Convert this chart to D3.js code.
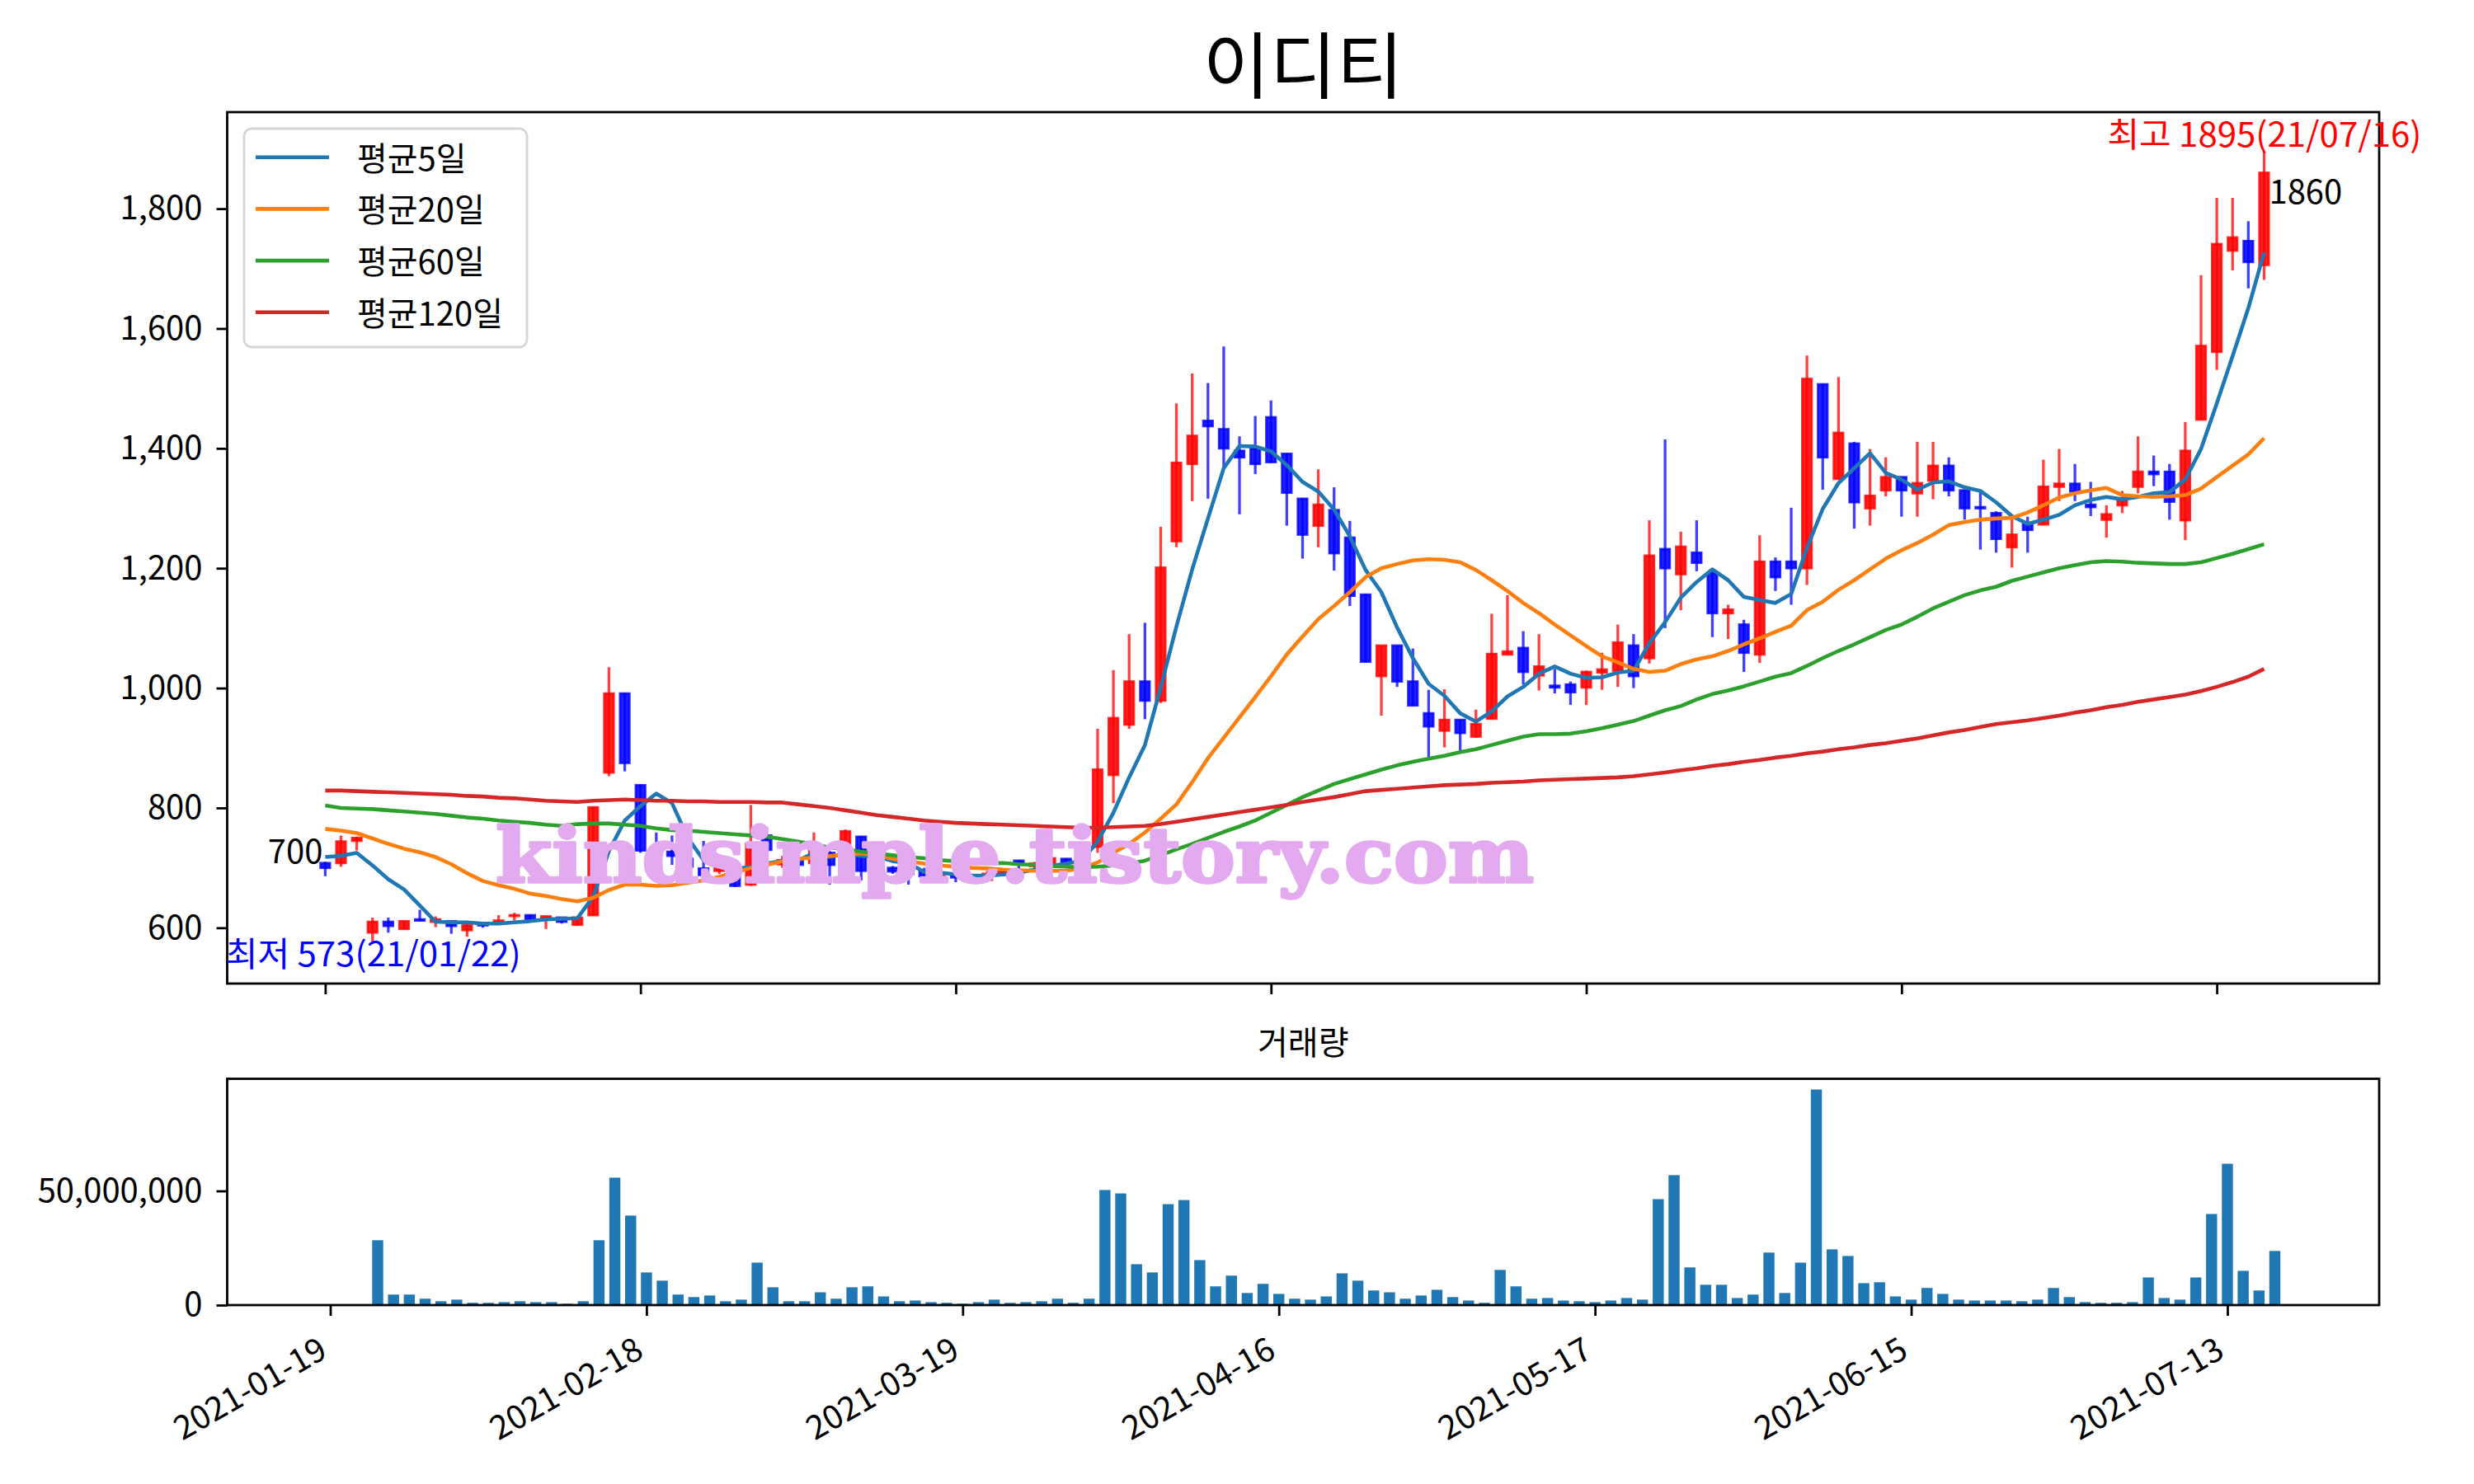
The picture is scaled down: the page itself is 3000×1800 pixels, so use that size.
<!DOCTYPE html>
<html><head><meta charset="utf-8">
<script src="https://cdn.jsdelivr.net/npm/d3@7"></script>
<style>body{margin:0;background:#fff}</style>
</head><body>
<svg id="c" width="3000" height="1800"></svg>
<script>
// ---------- data ----------
const openP = [708,708,745,592,610,598,614,610,611,596,606,610,620,621,614,617,605,621,859,991,
838,736,727,715,699,695,693,672,754,706,713,708,725,725,752,695,700,700,695,688,
690,684,680,690,712,703,708,715,710,735,855,939,1011,979,1245,1374,1446,1432,1396,1400,
1452,1391,1316,1271,1297,1251,1156,1020,1071,1011,958,929,947,919,949,1056,1067,1021,1004,1006,
1001,1026,1029,1071,1050,1232,1190,1226,1192,1125,1106,1056,1211,1211,1200,1507,1349,1408,1300,1330,
1352,1325,1346,1371,1330,1302,1292,1235,1275,1273,1336,1341,1306,1281,1305,1336,1361,1361,1280,1448,
1561,1730,1746,1706];
const highP = [710,754,752,617,617,612,630,619,612,607,608,621,625,622,619,617,617,802,1035,992,
839,759,754,730,745,713,700,805,768,720,718,759,728,764,753,705,703,705,700,695,
695,690,695,698,713,710,720,716,726,932,1030,1090,1109,1269,1475,1525,1509,1570,1420,1454,
1480,1392,1317,1365,1335,1279,1157,1071,1071,1066,997,998,947,964,1124,1155,1095,1090,1032,1011,
1029,1059,1106,1090,1280,1415,1261,1280,1197,1139,1114,1255,1218,1301,1555,1508,1519,1411,1399,1385,
1352,1411,1411,1385,1331,1327,1295,1286,1286,1381,1399,1374,1344,1305,1329,1420,1388,1374,1444,1689,
1818,1818,1779,1895];
const lowP = [686,702,729,573,592,598,611,601,590,585,600,608,612,613,598,607,604,620,853,861,
725,715,705,698,681,690,668,670,705,700,700,705,672,720,679,688,690,672,679,684,
676,680,676,686,684,698,705,705,708,725,808,932,948,975,1235,1312,1316,1365,1290,1357,
1376,1271,1216,1235,1196,1137,1043,954,1002,970,885,901,895,917,948,1056,1006,996,991,972,
972,997,1002,1000,1041,1100,1130,1195,1085,1082,1027,1042,1162,1139,1172,1331,1348,1266,1271,1320,
1286,1286,1315,1320,1281,1231,1226,1201,1226,1272,1312,1312,1287,1251,1292,1325,1337,1281,1247,1447,
1531,1697,1667,1681];
const closeP = [700,744,750,610,603,611,612,614,603,604,604,612,621,614,619,610,617,801,991,875,
729,724,720,702,688,708,670,740,730,713,705,735,705,761,695,700,694,690,686,690,
684,686,690,695,706,707,716,709,722,864,950,1011,979,1201,1376,1421,1437,1400,1385,1374,
1377,1326,1256,1306,1225,1154,1044,1071,1011,971,936,947,925,940,1057,1061,1027,1036,1001,993,
1027,1031,1076,1020,1221,1200,1236,1209,1125,1131,1059,1211,1185,1200,1516,1385,1426,1310,1321,1352,
1330,1342,1371,1330,1300,1300,1249,1256,1264,1336,1341,1328,1302,1290,1314,1361,1357,1311,1396,1571,
1741,1752,1711,1860];
// volume in millions of shares
const volumeM = [0,0,0,28.4,4.6,4.6,2.8,1.7,2.4,1.0,1.0,1.3,1.7,1.3,1.3,0.6,1.7,28.4,55.8,39.2,
14.3,10.7,4.6,3.5,4.2,1.7,2.4,18.6,7.8,1.7,1.7,5.6,2.8,7.8,8.2,3.8,1.7,2.0,1.3,1.0,
0.6,1.3,2.4,1.0,1.3,1.7,2.8,1.0,2.8,50.4,48.9,17.9,14.3,44.2,46.0,19.7,8.2,12.9,5.3,9.3,
4.9,2.8,2.4,3.8,13.9,10.7,6.4,5.6,2.8,4.2,6.7,3.5,2.0,1.0,15.4,8.2,2.8,3.1,2.0,1.7,
1.3,2.0,3.1,2.4,46.4,56.9,16.5,8.9,8.9,3.1,4.6,23.0,5.3,18.6,94.4,24.4,21.5,9.6,10.0,3.8,
2.4,7.5,4.9,2.4,2.0,2.0,2.0,1.7,2.4,7.5,3.5,1.3,1.0,1.0,1.3,12.1,3.1,2.4,12.1,39.9,
61.9,15.0,6.4,23.7];
const ma5 = [718,720,725,704,681,664,637,610,609,609,607,607,609,611,614,615,616,652,728,779,
803,824,808,750,713,708,698,702,707,712,712,725,718,724,720,719,711,708,693,692,
689,687,687,689,692,697,703,707,712,744,792,851,905,1001,1103,1198,1283,1367,1404,1403,
1395,1372,1344,1328,1298,1253,1197,1160,1101,1050,1007,987,958,944,961,986,1002,1024,1036,1024,
1017,1018,1026,1029,1075,1110,1151,1177,1198,1180,1152,1147,1142,1157,1234,1299,1342,1367,1392,1359,
1348,1331,1343,1345,1335,1329,1310,1287,1274,1281,1289,1305,1314,1319,1315,1319,1325,1327,1348,1399,
1475,1554,1634,1727];
const ma20 = [765,762,758,749,740,732,726,718,706,691,678,671,665,657,653,648,644,650,663,672,
672,670,671,675,679,685,692,700,705,711,715,717,720,722,724,721,715,711,707,704,
702,700,699,697,696,695,695,695,700,709,725,740,759,782,806,843,883,917,951,985,
1020,1056,1086,1115,1137,1160,1185,1200,1207,1213,1215,1214,1210,1197,1180,1162,1142,1125,1106,1088,
1070,1053,1043,1032,1027,1029,1040,1048,1053,1062,1073,1083,1094,1104,1130,1144,1164,1180,1198,1216,
1230,1242,1256,1272,1277,1281,1283,1284,1293,1305,1318,1325,1330,1334,1322,1320,1319,1320,1322,1333,
1352,1371,1390,1417];
const ma60 = [804,800,799,798,796,794,792,790,787,784,782,779,777,775,772,770,773,774,774,772,
770,766,763,762,760,758,756,754,752,748,744,739,734,731,727,724,721,718,716,713,
711,709,708,708,706,705,703,702,701,702,704,707,712,721,731,740,750,760,769,779,
792,805,818,829,840,848,856,864,871,877,882,887,893,898,905,912,919,923,923,924,
928,933,939,945,954,963,970,981,990,996,1003,1011,1019,1025,1037,1050,1062,1073,1085,1097,
1106,1119,1133,1144,1155,1163,1169,1179,1186,1193,1200,1205,1210,1212,1211,1209,1208,1207,1207,1210,
1217,1224,1232,1240];
const ma120 = [829,829,828,827,826,825,824,823,822,820,819,817,816,814,812,811,810,812,813,814,
813,812,812,811,811,810,810,810,809,809,806,803,800,796,792,788,785,782,779,777,
775,774,773,772,771,770,769,768,767,767,768,769,770,773,777,781,785,789,793,797,
801,805,810,814,818,823,828,830,832,834,836,838,839,840,842,843,844,846,847,848,
849,850,851,853,856,859,863,866,870,873,877,880,884,887,891,894,898,901,905,908,
912,916,921,926,930,935,940,943,946,950,954,959,963,968,972,977,981,985,989,995,
1002,1010,1019,1032];
const tickIdx = [0,20,40,60,80,100,120];
const tickLabels = ["2021-01-19","2021-02-18","2021-03-19","2021-04-16","2021-05-17","2021-06-15","2021-07-13"];
const priceTicks = [600,800,1000,1200,1400,1600,1800];
const volTicksM = [0,50];
const legendLabels = ["평균5일","평균20일","평균60일","평균120일"];
const titleText = "이디티";
const volTitle = "거래량";
const highLabel = "최고 1895(21/07/16)";
const lowLabel = "최저 573(21/01/22)";
const highIdx = 123, highVal = 1895, lowIdx = 3, lowVal = 573;
const watermark = "kindsimple.tistory.com";

// ---------- layout ----------
const FONT = "'Noto Sans CJK KR','Noto Sans',sans-serif";
const M = {l:275.5, r:2885, t:136, b:1193};
const V = {t:1308.5, b:1583};
const svg = d3.select("#c");
svg.append("rect").attr("width",3000).attr("height",1800).attr("fill","#fff");

const x = d3.scaleLinear().domain([-6.22,130.3]).range([M.l,M.r]);
const y = d3.scaleLinear().domain([506.9,1961.1]).range([M.b,M.t]);
const xv = d3.scaleLinear().domain([-6.52,129.6]).range([M.l,M.r]);
const yv = d3.scaleLinear().domain([0,99.1]).range([V.b,V.t]);

const defs = svg.append("defs");
defs.append("clipPath").attr("id","clipMain").append("rect")
  .attr("x",M.l).attr("y",M.t).attr("width",M.r-M.l).attr("height",M.b-M.t);
defs.append("clipPath").attr("id","clipVol").append("rect")
  .attr("x",M.l).attr("y",V.t).attr("width",M.r-M.l).attr("height",V.b-V.t);

const idx = d3.range(closeP.length);
const up = i => closeP[i] >= openP[i];

// candles
const gc = svg.append("g").attr("clip-path","url(#clipMain)");
gc.selectAll("line.wick").data(idx).join("line").attr("class","wick")
  .attr("x1",i=>x(i)).attr("x2",i=>x(i))
  .attr("y1",i=>y(highP[i])).attr("y2",i=>y(lowP[i]))
  .attr("stroke",i=>up(i)?"rgba(255,0,0,0.75)":"rgba(0,0,255,0.75)")
  .attr("stroke-width",3.3);
const bw = x(0.6)-x(0);
gc.selectAll("rect.body").data(idx).join("rect").attr("class","body")
  .attr("x",i=>x(i)-bw/2).attr("width",bw)
  .attr("y",i=>y(Math.max(openP[i],closeP[i])))
  .attr("height",i=>Math.max(1,Math.abs(y(openP[i])-y(closeP[i]))))
  .attr("fill",i=>up(i)?"rgba(255,0,0,0.88)":"rgba(0,0,255,0.88)")
  .attr("stroke",i=>up(i)?"rgba(255,0,0,0.8)":"rgba(0,0,255,0.8)")
  .attr("stroke-width",2.8);

// moving averages
const maSeries = [ma5, ma20, ma60, ma120];
const maColors = ["#1f77b4","#ff7f0e","#2ca02c","#d62728"];
const line = d3.line().x((d,i)=>x(i)).y(d=>y(d));
const gl = svg.append("g").attr("clip-path","url(#clipMain)");
maSeries.forEach((s,k)=>{
  gl.append("path").attr("d",line(s)).attr("fill","none")
    .attr("stroke",maColors[k]).attr("stroke-width",4.6)
    .attr("stroke-linejoin","round").attr("stroke-linecap","butt");
});

// volume bars
const vbw = xv(0.7)-xv(0);
svg.append("g").attr("clip-path","url(#clipVol)")
  .selectAll("rect").data(idx.filter(i=>volumeM[i]>0)).join("rect")
  .attr("x",i=>xv(i)-vbw/2).attr("width",vbw)
  .attr("y",i=>yv(volumeM[i])).attr("height",i=>yv(0)-yv(volumeM[i]))
  .attr("fill","#1f77b4");

// axes
function styleAxis(g){
  g.select(".domain").remove();
  g.selectAll(".tick line").attr("stroke","#000").attr("stroke-width",2.8);
  g.selectAll(".tick text").attr("fill","#000").attr("font-size",40).attr("font-family",FONT);
  g.attr("font-family",FONT);
}
svg.append("g").attr("transform",`translate(${M.l},0)`)
  .call(d3.axisLeft(y).tickValues(priceTicks).tickFormat(d3.format(",")).tickSize(13).tickPadding(17))
  .call(styleAxis);
svg.append("g").attr("transform",`translate(0,${M.b})`)
  .call(d3.axisBottom(x).tickValues(tickIdx).tickFormat("").tickSize(13))
  .call(styleAxis);
svg.append("g").attr("transform",`translate(${M.l},0)`)
  .call(d3.axisLeft(yv).tickValues(volTicksM).tickFormat(d=>d3.format(",")(d*1e6)).tickSize(13).tickPadding(17))
  .call(styleAxis);
const xa = svg.append("g").attr("transform",`translate(0,${V.b})`)
  .call(d3.axisBottom(xv).tickValues(tickIdx).tickFormat((d,i)=>tickLabels[i]).tickSize(13))
  .call(styleAxis);
xa.selectAll(".tick text").attr("x",0).attr("y",0).attr("dy",0)
  .attr("text-anchor","end").attr("transform","translate(-2,62) rotate(-30)");

// frames
[[M.t,M.b],[V.t,V.b]].forEach(([t,b])=>{
  svg.append("rect").attr("x",M.l).attr("y",t).attr("width",M.r-M.l).attr("height",b-t)
    .attr("fill","none").attr("stroke","#000").attr("stroke-width",2.8);
});

// titles
svg.append("text").attr("x",(M.l+M.r)/2).attr("y",112).attr("text-anchor","middle")
  .attr("font-family",FONT).attr("font-size",88).text(titleText);
svg.append("text").attr("x",(M.l+M.r)/2).attr("y",1279).attr("text-anchor","middle")
  .attr("font-family",FONT).attr("font-size",40).text(volTitle);

// legend
const lg = svg.append("g");
lg.append("rect").attr("x",296).attr("y",156).attr("width",343).attr("height",265).attr("rx",9)
  .attr("fill","#fff").attr("stroke","#d6d6d6").attr("stroke-width",2.8);
legendLabels.forEach((t,k)=>{
  const yy = 190.7 + k*62.7;
  lg.append("line").attr("x1",310).attr("x2",399).attr("y1",yy).attr("y2",yy)
    .attr("stroke",maColors[k]).attr("stroke-width",4.6);
  lg.append("text").attr("x",433).attr("y",yy).attr("dy","0.4em")
    .attr("font-family",FONT).attr("font-size",40).text(t);
});

// watermark
svg.append("text").attr("x",601).attr("y",1070)
  .attr("font-family","'DejaVu Serif',serif").attr("font-weight","bold").attr("font-size",92)
  .attr("textLength",1259).attr("lengthAdjust","spacingAndGlyphs")
  .attr("fill","#e3aaef").attr("stroke","#e3aaef").attr("stroke-width",3.5)
  .attr("stroke-linejoin","round").text(watermark);

// annotations
svg.append("text").attr("x",x(0)-3).attr("y",y(closeP[0])-5.5).attr("text-anchor","end")
  .attr("font-family",FONT).attr("font-size",40).attr("fill","#000").text(String(closeP[0]));
const last = closeP.length-1;
svg.append("text").attr("x",x(last)+6).attr("y",y(closeP[last])+38).attr("text-anchor","start")
  .attr("font-family",FONT).attr("font-size",40).attr("fill","#000").text(String(closeP[last]));
svg.append("text").attr("x",x(highIdx)-190).attr("y",y(highVal)-6)
  .attr("textLength",381).attr("lengthAdjust","spacingAndGlyphs")
  .attr("font-family",FONT).attr("font-size",41).attr("fill","#ff0000").text(highLabel);
svg.append("text").attr("x",x(lowIdx)-178).attr("y",y(lowVal)+27)
  .attr("textLength",358).attr("lengthAdjust","spacingAndGlyphs")
  .attr("font-family",FONT).attr("font-size",41).attr("fill","#0000ff").text(lowLabel);
</script>
</body></html>
